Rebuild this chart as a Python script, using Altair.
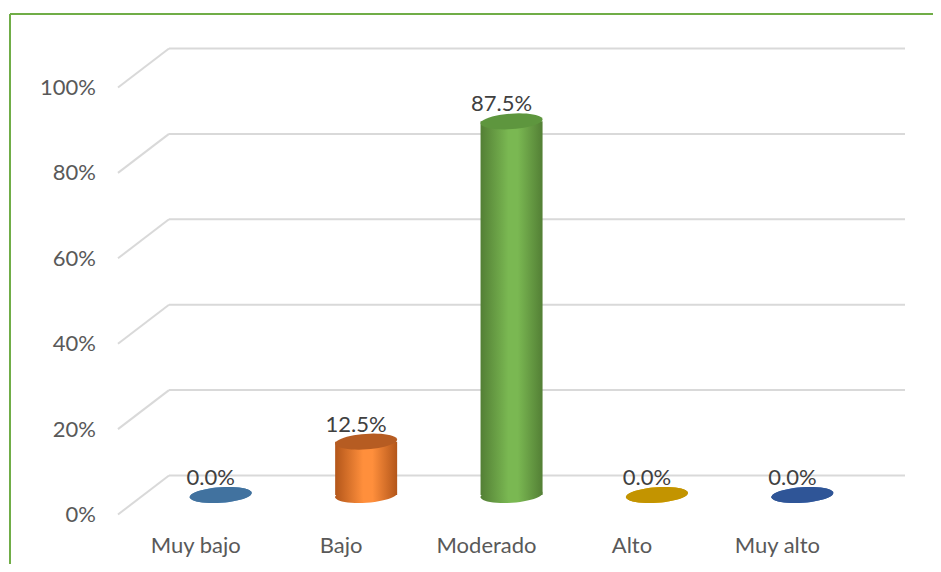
import altair as alt
import pandas as pd
import numpy as np

# ---- data ----
categories = ["Muy bajo", "Bajo", "Moderado", "Alto", "Muy alto"]
values = [0.0, 0.125, 0.875, 0.0, 0.0]
labels = ["0.0%", "12.5%", "87.5%", "0.0%", "0.0%"]
tick_values = [0.0, 0.2, 0.4, 0.6, 0.8, 1.0]
tick_labels = ["0%", "20%", "40%", "60%", "80%", "100%"]

# ---- styles ----
body_dark = ["#3F6F99", "#B3561A", "#537F35", "#B38700", "#2B4F8C"]
body_light = ["#6FA5D8", "#FF8F3C", "#7AB852", "#FFC21A", "#4D7CC9"]
top_colors = ["#41729F", "#B65C22", "#5E963E", "#C39400", "#2F5597"]

df = pd.DataFrame({
    "cat": categories,
    "idx": list(range(len(categories))),
    "value": values,
    "label": labels,
    "base": [0.0] * len(categories),
})
ticks = pd.DataFrame({"tick": tick_values, "tlabel": tick_labels})

W, H = 925, 556
xscale = alt.Scale(domain=[-1.4286, 4.8639], nice=False, zero=False)
yscale = alt.Scale(domain=[-0.16159, 1.14051], nice=False, zero=False)

FONT = "Lato"
FS = 22
TXT = "#595959"
GRID = "#D9D9D9"

# ellipse symbol path (unit width)
ts = np.linspace(0, 2 * np.pi, 48, endpoint=False)
pts = ["%.4f,%.4f" % (np.cos(t), 0.25 * np.sin(t)) for t in ts]
ELL = "M" + "L".join(pts) + "Z"
ESIZE = 62 * 62

layers = []

# frame
frame_top = alt.Chart(df).mark_rule(stroke="#70AD47", strokeWidth=2).encode(
    x=alt.value(2), x2=alt.value(W), y=alt.value(6))
frame_left = alt.Chart(df).mark_rule(stroke="#70AD47", strokeWidth=2).encode(
    x=alt.value(2), y=alt.value(6), y2=alt.value(H))
layers += [frame_top, frame_left]

# back gridlines
back = alt.Chart(ticks).mark_rule(stroke=GRID, strokeWidth=2, yOffset=-19.5).encode(
    y=alt.Y("tick:Q", scale=yscale, axis=None),
    x=alt.value(161), x2=alt.value(897))
diag = alt.Chart(ticks).mark_rule(stroke=GRID, strokeWidth=2, yOffset=19.5, y2Offset=-19.5).encode(
    y=alt.Y("tick:Q", scale=yscale, axis=None),
    y2=alt.Y2("tick:Q"),
    x=alt.value(110), x2=alt.value(161))
tick_text = alt.Chart(ticks).mark_text(
    align="right", baseline="alphabetic", font=FONT, fontSize=FS, color=TXT, dy=27
).encode(
    y=alt.Y("tick:Q", scale=yscale, axis=None),
    x=alt.value(88),
    text="tlabel:N")
layers += [back, diag, tick_text]

# cylinders
for i, c in enumerate(categories):
    grad = alt.LinearGradient(
        gradient="linear",
        stops=[
            alt.GradientStop(color=body_dark[i], offset=0),
            alt.GradientStop(color=body_light[i], offset=0.45),
            alt.GradientStop(color=body_light[i], offset=0.6),
            alt.GradientStop(color=body_dark[i], offset=1),
        ],
        x1=0, x2=1, y1=0, y2=0)
    sub = alt.Chart(df).transform_filter(alt.datum.cat == c)
    bottom = sub.mark_point(shape=ELL, size=ESIZE, filled=True, fill=grad, opacity=1,
                            strokeWidth=0, angle=356).encode(
        x=alt.X("idx:Q", scale=xscale, axis=None),
        y=alt.Y("base:Q", scale=yscale, axis=None))
    body = sub.mark_bar(width=62, fill=grad, strokeWidth=0).encode(
        x=alt.X("idx:Q", scale=xscale, axis=None),
        y=alt.Y("value:Q", scale=yscale, axis=None),
        y2="base:Q")
    top = sub.mark_point(shape=ELL, size=ESIZE, filled=True, fill=top_colors[i], opacity=1,
                         strokeWidth=0, angle=356).encode(
        x=alt.X("idx:Q", scale=xscale, axis=None),
        y=alt.Y("value:Q", scale=yscale, axis=None))
    layers += [bottom, body, top]

# data labels
dlab = alt.Chart(df).mark_text(
    align="center", baseline="alphabetic", font=FONT, fontSize=FS, color="#404040", dx=-10, dy=-10
).encode(
    x=alt.X("idx:Q", scale=xscale, axis=None),
    y=alt.Y("value:Q", scale=yscale, axis=None),
    text="label:N")
# category labels
clab = alt.Chart(df).mark_text(
    align="center", baseline="alphabetic", font=FONT, fontSize=FS, color=TXT, dx=-25
).encode(
    x=alt.X("idx:Q", scale=xscale, axis=None),
    y=alt.value(544.5),
    text="cat:N")
layers += [dlab, clab]

chart = alt.layer(*layers).properties(
    width=W, height=H, padding=0,
    autosize=alt.AutoSizeParams(type="none"),
    background="white",
).configure_view(stroke=None)

chart.save("out.html", embed_options={"renderer": "svg", "actions": False})
